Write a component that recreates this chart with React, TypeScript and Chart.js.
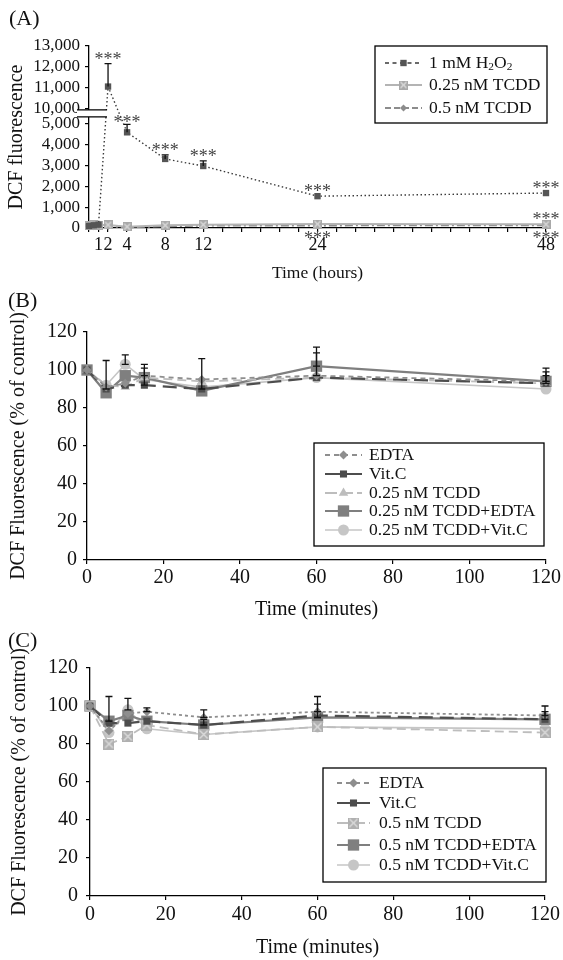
import React, { useEffect, useRef } from 'react';
import { Chart, registerables, LinearScale } from 'chart.js';

const FONT = "'Liberation Serif', 'Times New Roman', Times, serif";

// ---------------- Panel A data ----------------
const hoursA = [0, 0.5, 1, 2, 4, 8, 12, 24, 48];
const h2o2A = [100, 130, 160, 11050, 4600, 3320, 2980, 1530, 1680];
const h2o2ErrA = [0, 0, 0, 1100, 380, 200, 250, 0, 0];
const tcdd025A = [120, 150, 140, 150, 60, 130, 160, 190, 180];
const tcdd05A = [80, 60, 90, 70, 30, 80, 110, 120, 130];
const xTickLabelsA = [1, 2, 4, 8, 12, 24, 48];
const xMinorTicksA = [0, 1, 2, 4, 6, 8, 10, 12, 14, 16, 18, 20, 22, 24, 26, 28, 30, 32, 34, 36, 38, 40, 42, 44, 46, 48];
const yTicksA = [0, 1000, 2000, 3000, 4000, 5000, 10000, 11000, 12000, 13000];
const starsA = [
  { x: 2, v: 12150, pos: 'above' },
  { x: 4, v: 4850, pos: 'above' },
  { x: 8, v: 3520, pos: 'above' },
  { x: 12, v: 3230, pos: 'above' },
  { x: 24, v: 1530, pos: 'above' },
  { x: 48, v: 1680, pos: 'above' },
  { x: 48, v: 180, pos: 'above' },
  { x: 24, v: 0, pos: 'below' },
  { x: 48, v: 0, pos: 'below' },
];

// ---------------- Panel B data ----------------
const minutes = [0, 5, 10, 15, 30, 60, 120];
const namesB = ['EDTA', 'Vit.C', '0.25 nM TCDD', '0.25 nM TCDD+EDTA', '0.25 nM TCDD+Vit.C'];
const edtaB = [100, 91, 93, 97, 95, 97, 94];
const vitcB = [100, 90, 92, 92, 90, 96, 93];
const tcddB = [100, 92, 91, 96, 94, 96, 93];
const tcddEdtaB = [100, 88, 97, 96, 89, 102, 94];
const tcddVitcB = [100, 92, 103, 95, 91, 96, 90];
const edtaErrB = [0, 0, 0, 6, 0, 12, 5];
const vitcErrB = [0, 15, 0, 9, 16, 0, 4];
const tcddErrB = [0, 0, 0, 0, 0, 0, 0];
const tcddEdtaErrB = [0, 0, 0, 0, 0, 10, 7];
const tcddVitcErrB = [0, 0, 5, 0, 0, 0, 0];

// ---------------- Panel C data ----------------
const namesC = ['EDTA', 'Vit.C', '0.5 nM TCDD', '0.5 nM TCDD+EDTA', '0.5 nM TCDD+Vit.C'];
const edtaC = [100, 87, 96, 97, 94, 97, 95];
const vitcC = [100, 91, 91, 92, 90, 95, 93];
const tcddC = [100, 80, 84, 90, 85, 89, 86];
const tcddEdtaC = [100, 92, 95, 92, 90, 94, 93];
const tcddVitcC = [100, 86, 98, 88, 85, 89, 88];
const edtaErrC = [0, 0, 0, 2, 4, 8, 5];
const vitcErrC = [0, 0, 0, 0, 0, 0, 0];
const tcddErrC = [0, 0, 0, 0, 0, 0, 0];
const tcddEdtaErrC = [0, 13, 0, 0, 3, 7, 4];
const tcddVitcErrC = [0, 0, 6, 0, 0, 0, 0];

const ticksBC = [0, 20, 40, 60, 80, 100, 120];

// ---------------- broken y axis for panel A ----------------
const BREAK_LOW = 5000;
const BREAK_HIGH = 10000;
const BREAK_GAP = 750;
function toAxis(v: number) {
  if (v <= BREAK_LOW) return v;
  if (v >= BREAK_HIGH) return v - (BREAK_HIGH - BREAK_LOW) + BREAK_GAP;
  return BREAK_LOW + ((v - BREAK_LOW) * BREAK_GAP) / (BREAK_HIGH - BREAK_LOW);
}
function fromAxis(a: number) {
  if (a <= BREAK_LOW) return a;
  if (a >= BREAK_LOW + BREAK_GAP) return a - BREAK_GAP + (BREAK_HIGH - BREAK_LOW);
  return BREAK_LOW + ((a - BREAK_LOW) * (BREAK_HIGH - BREAK_LOW)) / BREAK_GAP;
}

class BrokenLinearScale extends (LinearScale as any) {
  static id = 'brokenLinear';
  static defaults = {};
  determineDataLimits() {
    this.min = toAxis(this.options.min);
    this.max = toAxis(this.options.max);
  }
  buildTicks() {
    return yTicksA.map((v) => ({ value: v }));
  }
  getPixelForValue(v: number) {
    return super.getPixelForValue(toAxis(v));
  }
  getValueForPixel(p: number) {
    return fromAxis(super.getValueForPixel(p));
  }
}

Chart.register(...registerables);
Chart.register(BrokenLinearScale as any);
Chart.defaults.font.family = FONT;
Chart.defaults.color = '#111';

// ---------------- helpers ----------------
function makeXSquare(size: number, fill: string, cross: string) {
  const c = document.createElement('canvas');
  c.width = size;
  c.height = size;
  const g = c.getContext('2d')!;
  g.fillStyle = fill;
  g.fillRect(0, 0, size, size);
  g.strokeStyle = cross;
  g.lineWidth = 1.4;
  g.beginPath();
  g.moveTo(1.5, 1.5);
  g.lineTo(size - 1.5, size - 1.5);
  g.moveTo(size - 1.5, 1.5);
  g.lineTo(1.5, size - 1.5);
  g.stroke();
  return c;
}

function drawMarker(ctx: CanvasRenderingContext2D, style: any, x: number, y: number, r: number, fill: string) {
  if (style && typeof style === 'object') {
    ctx.drawImage(style, x - style.width / 2, y - style.height / 2);
    return;
  }
  ctx.fillStyle = fill;
  ctx.beginPath();
  if (style === 'rect') {
    const s = r * Math.SQRT1_2;
    ctx.rect(x - s, y - s, 2 * s, 2 * s);
  } else if (style === 'rectRot') {
    ctx.moveTo(x, y - r);
    ctx.lineTo(x + r, y);
    ctx.lineTo(x, y + r);
    ctx.lineTo(x - r, y);
    ctx.closePath();
  } else if (style === 'triangle') {
    let a = 0;
    ctx.moveTo(x + Math.sin(a) * r, y - Math.cos(a) * r);
    a += (2 * Math.PI) / 3;
    ctx.lineTo(x + Math.sin(a) * r, y - Math.cos(a) * r);
    a += (2 * Math.PI) / 3;
    ctx.lineTo(x + Math.sin(a) * r, y - Math.cos(a) * r);
    ctx.closePath();
  } else {
    ctx.arc(x, y, r, 0, Math.PI * 2);
  }
  ctx.fill();
}

function makeDataset(label: string, xs: number[], ys: number[], errs: number[] | null, st: any) {
  return {
    label,
    data: xs.map((x, i) => ({ x, y: ys[i] })),
    errors: errs,
    borderColor: st.color,
    backgroundColor: st.color,
    pointBackgroundColor: st.pointColor || st.color,
    pointBorderColor: st.pointColor || st.color,
    pointBorderWidth: 0,
    borderWidth: st.width,
    borderDash: st.dash,
    legendDash: st.legendDash || st.dash,
    pointStyle: st.pointStyle,
    pointRadius: st.radius,
    richLabel: st.richLabel,
    tension: 0,
    clip: false,
    fill: false,
  };
}

// ---------------- plugins ----------------
const errorBarPlugin = {
  id: 'errorBars',
  afterDatasetsDraw(chart: any, _a: any, opts: any) {
    const { ctx, scales } = chart;
    const xs = scales.x;
    const ys = scales.y;
    const cap = opts.cap || 3.5;
    ctx.save();
    ctx.strokeStyle = '#111';
    ctx.lineWidth = 1.3;
    ctx.setLineDash([]);
    chart.data.datasets.forEach((d: any) => {
      const errs = d.errors;
      if (!errs) return;
      d.data.forEach((p: any, i: number) => {
        const e = errs[i];
        if (!e) return;
        const px = xs.getPixelForValue(p.x);
        const y0 = ys.getPixelForValue(p.y);
        const y1 = ys.getPixelForValue(p.y + e);
        ctx.beginPath();
        ctx.moveTo(px, y0);
        ctx.lineTo(px, y1);
        ctx.moveTo(px - cap, y1);
        ctx.lineTo(px + cap, y1);
        if (opts.bottomCap) {
          ctx.moveTo(px - cap, y0);
          ctx.lineTo(px + cap, y0);
        }
        ctx.stroke();
      });
    });
    ctx.restore();
  },
};

const starsPlugin = {
  id: 'stars',
  afterDatasetsDraw(chart: any, _a: any, opts: any) {
    if (!opts.items) return;
    const { ctx, scales } = chart;
    ctx.save();
    ctx.font = opts.font;
    ctx.fillStyle = '#444';
    ctx.textAlign = 'center';
    ctx.textBaseline = 'alphabetic';
    opts.items.forEach((s: any) => {
      const px = scales.x.getPixelForValue(s.x);
      const py = scales.y.getPixelForValue(s.v);
      ctx.fillText('***', px, s.pos === 'above' ? py + 1 : py + 16);
    });
    ctx.restore();
  },
};

const breakPlugin = {
  id: 'axisBreak',
  afterDraw(chart: any) {
    const { ctx, scales } = chart;
    const ax = scales.y.right;
    const top = scales.y.getPixelForValue(BREAK_HIGH) + 1.5;
    const bot = top + 7;
    ctx.save();
    ctx.fillStyle = '#fff';
    ctx.fillRect(ax - 12, top, 30, bot - top);
    ctx.strokeStyle = '#000';
    ctx.lineWidth = 1.2;
    ctx.beginPath();
    ctx.moveTo(ax - 12, top);
    ctx.lineTo(ax + 18, top);
    ctx.moveTo(ax - 12, bot);
    ctx.lineTo(ax + 18, bot);
    ctx.stroke();
    ctx.restore();
  },
};

const panelLabelPlugin = {
  id: 'panelLabel',
  afterDraw(chart: any, _a: any, opts: any) {
    const { ctx } = chart;
    ctx.save();
    ctx.font = `22px ${FONT}`;
    ctx.fillStyle = '#111';
    ctx.textAlign = 'left';
    ctx.textBaseline = 'middle';
    ctx.fillText(opts.text, opts.x, opts.y);
    ctx.restore();
  },
};

const boxLegendPlugin = {
  id: 'boxLegend',
  afterDraw(chart: any, _a: any, opts: any) {
    const { ctx } = chart;
    const [bx, by, bw, bh] = opts.box;
    const [lx0, lx1] = opts.line;
    ctx.save();
    ctx.fillStyle = '#fff';
    ctx.fillRect(bx, by, bw, bh);
    ctx.strokeStyle = '#000';
    ctx.lineWidth = 1.3;
    ctx.setLineDash([]);
    ctx.strokeRect(bx, by, bw, bh);
    chart.data.datasets.forEach((d: any, i: number) => {
      const y = opts.rows[i];
      ctx.strokeStyle = d.borderColor;
      ctx.lineWidth = d.borderWidth;
      ctx.setLineDash(d.legendDash || []);
      ctx.beginPath();
      ctx.moveTo(lx0, y);
      ctx.lineTo(lx1, y);
      ctx.stroke();
      ctx.setLineDash([]);
      drawMarker(ctx, d.pointStyle, (lx0 + lx1) / 2, y, d.pointRadius, d.pointBackgroundColor);
      ctx.fillStyle = '#111';
      ctx.textBaseline = 'middle';
      ctx.textAlign = 'left';
      if (d.richLabel) {
        let x = opts.textX;
        d.richLabel.forEach((seg: any) => {
          const sub = seg[1];
          ctx.font = sub ? `${opts.size * 0.65}px ${FONT}` : `${opts.size}px ${FONT}`;
          ctx.fillText(seg[0], x, sub ? y + opts.size * 0.25 : y);
          x += ctx.measureText(seg[0]).width;
        });
      } else {
        ctx.font = `${opts.size}px ${FONT}`;
        ctx.fillText(d.label, opts.textX, y);
      }
    });
    ctx.restore();
  },
};

function axisCommon() {
  return {
    grid: { drawOnChartArea: false, drawTicks: true, tickLength: 4, color: '#000', lineWidth: 1.2 },
    border: { display: true, color: '#000', width: 1.3 },
  };
}

// ---------------- configs ----------------
function configA(): any {
  const xSq = makeXSquare(9, '#a9a9a9', '#dadada');
  const datasets = [
    makeDataset('1 mM H₂O₂', hoursA, h2o2A, h2o2ErrA, {
      color: '#3a3a3a', pointColor: '#555', width: 1.4, dash: [1.5, 2.5], legendDash: [4, 3.5],
      pointStyle: 'rect', radius: 4.5,
      richLabel: [['1 mM H', 0], ['2', 1], ['O', 0], ['2', 1]],
    }),
    makeDataset('0.25 nM TCDD', hoursA, tcdd025A, null, {
      color: '#b4b4b4', width: 2, dash: [], pointStyle: xSq, radius: 5,
    }),
    makeDataset('0.5 nM TCDD', hoursA, tcdd05A, null, {
      color: '#8c8c8c', width: 1.8, dash: [8, 3, 2, 3], legendDash: [6, 3], pointStyle: 'rectRot', radius: 3.5,
    }),
  ];
  return {
    type: 'line',
    data: { datasets },
    plugins: [errorBarPlugin, starsPlugin, breakPlugin, panelLabelPlugin, boxLegendPlugin],
    options: {
      responsive: false,
      animation: false,
      events: [],
      layout: { padding: { top: 46, right: 17, left: 0, bottom: 0 } },
      plugins: {
        legend: { display: false },
        tooltip: { enabled: false },
        errorBars: { cap: 3.5, bottomCap: false },
        stars: { items: starsA, font: `18px ${FONT}` },
        panelLabel: { text: '(A)', x: 9, y: 19 },
        boxLegend: {
          box: [375, 46, 172, 77], rows: [63, 85, 108], line: [385, 422], textX: 429, size: 17.5,
        },
      },
      scales: {
        x: {
          type: 'linear', min: 0, max: 48,
          afterBuildTicks: (s: any) => { s.ticks = xMinorTicksA.map((v) => ({ value: v })); },
          afterFit: (s: any) => { s.height = 57; },
          ticks: {
            autoSkip: false, maxRotation: 0, minRotation: 0, padding: 2, color: '#111',
            font: { size: 18 },
            callback: (v: any) => (xTickLabelsA.includes(v) ? String(v) : ''),
          },
          title: { display: true, text: 'Time (hours)', color: '#111', font: { size: 17.5, lineHeight: 1 }, padding: { top: 0, bottom: 3 } },
          ...axisCommon(),
        },
        y: {
          type: 'brokenLinear', min: 0, max: 13000,
          afterFit: (s: any) => { s.width = 89; },
          ticks: {
            autoSkip: false, padding: 5, color: '#111', font: { size: 17 },
            callback: (v: any) => Number(v).toLocaleString('en-US'),
          },
          title: { display: true, text: 'DCF fluorescence', color: '#111', font: { size: 20, lineHeight: 1 }, padding: { top: 7, bottom: 0 } },
          ...axisCommon(),
        },
      },
    },
  };
}

function configBC(p: any): any {
  const datasets = [
    makeDataset(p.names[0], minutes, p.series[0], p.errs[0], {
      color: '#8e8e8e', width: 1.8, dash: p.edtaDash, legendDash: [5, 4], pointStyle: 'rectRot', radius: 4.5,
    }),
    makeDataset(p.names[1], minutes, p.series[1], p.errs[1], {
      color: '#4d4d4d', width: 2.2, dash: [14, 7], legendDash: [], pointStyle: 'rect', radius: 5,
    }),
    makeDataset(p.names[2], minutes, p.series[2], p.errs[2], {
      color: '#bdbdbd', width: 1.8, dash: [9, 5], legendDash: [12, 4], pointStyle: p.tcddMarker, radius: p.tcddRadius,
    }),
    makeDataset(p.names[3], minutes, p.series[3], p.errs[3], {
      color: '#7f7f7f', width: 2.2, dash: [], pointStyle: 'rect', radius: 8,
    }),
    makeDataset(p.names[4], minutes, p.series[4], p.errs[4], {
      color: '#c6c6c6', width: 1.7, dash: [], pointStyle: 'circle', radius: 5.5,
    }),
  ];
  return {
    type: 'line',
    data: { datasets },
    plugins: [errorBarPlugin, panelLabelPlugin, boxLegendPlugin],
    options: {
      responsive: false,
      animation: false,
      events: [],
      layout: { padding: { top: p.top, right: p.right, left: 0, bottom: 0 } },
      plugins: {
        legend: { display: false },
        tooltip: { enabled: false },
        errorBars: { cap: 3.5, bottomCap: true },
        panelLabel: { text: p.label, x: 8, y: p.labelY },
        boxLegend: p.legend,
      },
      scales: {
        x: {
          type: 'linear', min: 0, max: 120,
          afterBuildTicks: (s: any) => { s.ticks = ticksBC.map((v) => ({ value: v })); },
          afterFit: (s: any) => { s.height = p.xh; },
          ticks: { autoSkip: false, maxRotation: 0, padding: p.xPad, color: '#111', font: { size: 20 } },
          title: { display: true, text: 'Time (minutes)', color: '#111', font: { size: 20, lineHeight: 1 }, padding: { top: 0, bottom: 2 } },
          ...axisCommon(),
        },
        y: {
          type: 'linear', min: 0, max: 120,
          afterBuildTicks: (s: any) => { s.ticks = ticksBC.map((v) => ({ value: v })); },
          afterFit: (s: any) => { s.width = p.yw; },
          ticks: { autoSkip: false, padding: p.yPad, color: '#111', font: { size: 20 } },
          title: { display: true, text: 'DCF Fluorescence (% of control)', color: '#111', font: { size: 20, lineHeight: 1 }, padding: { top: p.yTitlePad, bottom: 0 } },
          ...axisCommon(),
        },
      },
    },
  };
}

export default function App() {
  const refA = useRef<HTMLCanvasElement>(null);
  const refB = useRef<HTMLCanvasElement>(null);
  const refC = useRef<HTMLCanvasElement>(null);

  useEffect(() => {
    const xSqC = makeXSquare(11, '#b0b0b0', '#dcdcdc');
    const charts = [
      new Chart(refA.current as any, configA()),
      new Chart(refB.current as any, configBC({
        names: namesB,
        series: [edtaB, vitcB, tcddB, tcddEdtaB, tcddVitcB],
        errs: [edtaErrB, vitcErrB, tcddErrB, tcddEdtaErrB, tcddVitcErrB],
        edtaDash: [5, 4], tcddMarker: 'triangle', tcddRadius: 5.5,
        top: 47, right: 16, xh: 62, yw: 87, xPad: 2, yPad: 6, yTitlePad: 9,
        label: '(B)', labelY: 16,
        legend: { box: [314, 158, 230, 103], rows: [170, 189, 208, 226, 245], line: [325, 362], textX: 369, size: 17.5 },
      })),
      new Chart(refC.current as any, configBC({
        names: namesC,
        series: [edtaC, vitcC, tcddC, tcddEdtaC, tcddVitcC],
        errs: [edtaErrC, vitcErrC, tcddErrC, tcddEdtaErrC, tcddVitcErrC],
        edtaDash: [3, 3], tcddMarker: xSqC, tcddRadius: 6,
        top: 46, right: 15, xh: 64, yw: 90, xPad: 3, yPad: 8, yTitlePad: 10,
        label: '(C)', labelY: 19,
        legend: { box: [323, 146, 223, 114], rows: [161, 181, 201, 223, 243], line: [337, 370], textX: 379, size: 17.5 },
      })),
    ];
    return () => charts.forEach((c) => c.destroy());
  }, []);

  return (
    <div style={{ position: 'absolute', left: 0, top: 0, width: 563, height: 960, background: '#fff' }}>
      <canvas ref={refA} width={563} height={285} style={{ position: 'absolute', left: 0, top: 0 }} />
      <canvas ref={refB} width={563} height={337} style={{ position: 'absolute', left: 0, top: 285 }} />
      <canvas ref={refC} width={563} height={338} style={{ position: 'absolute', left: 0, top: 622 }} />
    </div>
  );
}
